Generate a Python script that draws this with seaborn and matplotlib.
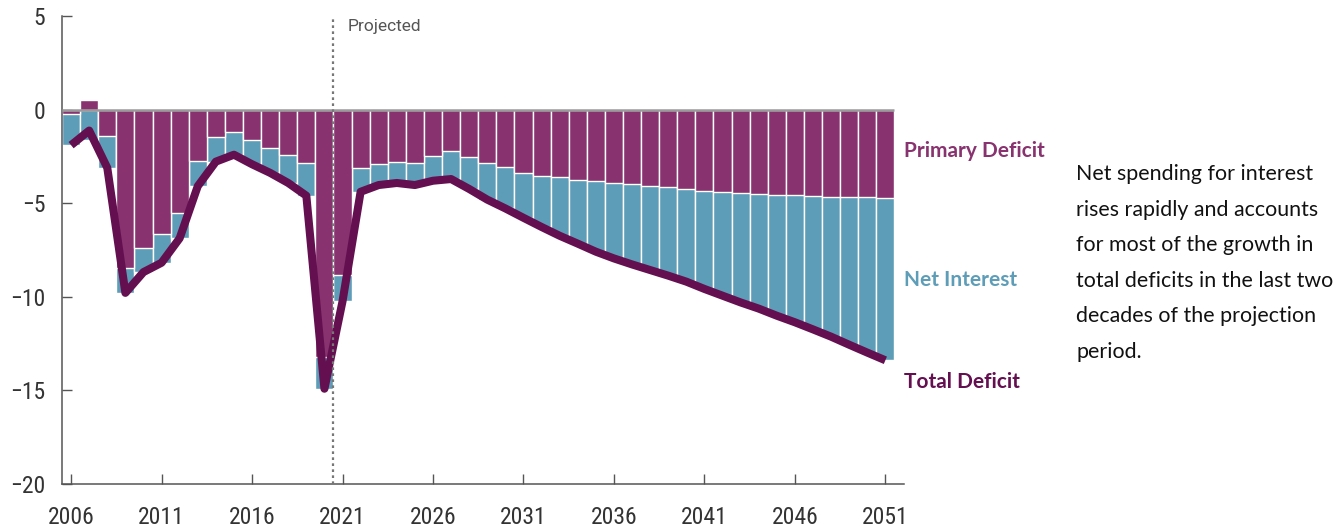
import matplotlib
matplotlib.use('Agg')
import matplotlib.pyplot as plt
import seaborn as sns
from matplotlib import font_manager

# Data: percentage of GDP
years = list(range(2006, 2052))
primary_deficit = [-0.25, 0.50, -1.39, -8.45, -7.38, -6.67, -5.52, -2.72, -1.46, -1.19,
                   -1.62, -2.04, -2.40, -2.85, -13.20, -8.83, -3.12, -2.91, -2.80, -2.86,
                   -2.48, -2.22, -2.54, -2.86, -3.07, -3.39, -3.55, -3.60, -3.76, -3.82,
                   -3.92, -3.98, -4.08, -4.14, -4.24, -4.35, -4.40, -4.46, -4.51, -4.56,
                   -4.56, -4.62, -4.67, -4.67, -4.67, -4.72]
net_interest = [-1.65, -1.62, -1.72, -1.34, -1.30, -1.51, -1.35, -1.37, -1.32, -1.22,
                -1.30, -1.34, -1.52, -1.75, -1.71, -1.41, -1.27, -1.12, -1.12, -1.17,
                -1.32, -1.49, -1.70, -1.95, -2.21, -2.39, -2.72, -3.14, -3.40, -3.77,
                -4.03, -4.29, -4.49, -4.73, -4.95, -5.23, -5.54, -5.84, -6.12, -6.45,
                -6.80, -7.12, -7.46, -7.89, -8.31, -8.67]
total_deficit = [p + i for p, i in zip(primary_deficit, net_interest)]
# teal bars hang below the primary deficit (or below zero for a surplus year)
interest_bottom = [min(p, 0) + i for p, i in zip(primary_deficit, net_interest)]

xticks = list(range(2006, 2052, 5))
yticks = [5, 0, -5, -10, -15, -20]
note = ('Net spending for interest\nrises rapidly and accounts\nfor most of the growth in\n'
        'total deficits in the last two\ndecades of the projection\nperiod.')

purple = '#88336F'
teal = '#5E9DB7'
dark = '#640F50'


def pick(names):
    avail = {f.name for f in font_manager.fontManager.ttflist}
    for n in names:
        if n in avail:
            return n
    return 'DejaVu Sans'


sns.set_theme(style='ticks')
cond = pick(['Roboto Condensed', 'Liberation Sans Narrow', 'Roboto'])
body = pick(['Lato', 'Open Sans', 'Roboto'])
plain = pick(['Roboto', 'Open Sans'])
plt.rcParams['font.family'] = [cond, 'DejaVu Sans']

fig = plt.figure(figsize=(13.43, 5.29), dpi=100)
ax = fig.add_axes([0.0462, 0.085, 0.6272, 0.8848])

sns.barplot(x=years, y=interest_bottom, native_scale=True, width=1, color=teal,
            saturation=1, edgecolor='white', linewidth=1, errorbar=None, ax=ax)
sns.barplot(x=years, y=primary_deficit, native_scale=True, width=1, color=purple,
            saturation=1, edgecolor='white', linewidth=1, errorbar=None, ax=ax)
ax.hlines(0, 2005.5, 2051.5, color='#9a9a9a', linewidth=1.8, zorder=3)
sns.lineplot(x=years, y=total_deficit, color=dark, linewidth=5.8, ax=ax,
             solid_capstyle='butt', zorder=4)

ax.axvline(2020.5, color='#777777', linestyle=(0, (1.2, 1.5)), linewidth=1.6, zorder=5)
ax.text(2021.3, 4.45, 'Projected', fontsize=12.5, color='#555555', va='center', ha='left',
        family=[plain, 'DejaVu Sans'])

ax.set_xlim(2005.5, 2052.05)
ax.set_ylim(-20, 5)
ax.set_xticks(xticks)
ax.set_xticklabels([str(y) for y in xticks])
ax.set_yticks(yticks)
ax.set_xlabel('')
ax.set_ylabel('')
ax.tick_params(direction='in', length=7, width=1, color='#555555', labelcolor='#333333',
               labelsize=17)
ax.tick_params(axis='y', pad=12)
ax.tick_params(axis='x', pad=16)
sns.despine(ax=ax)
for s in ['left', 'bottom']:
    ax.spines[s].set_color('#555555')
    ax.spines[s].set_linewidth(1.1)

fig.text(904 / 1343, 1 - 151 / 529, 'Primary Deficit', color=purple, fontsize=15,
         fontweight='bold', family=[body, 'DejaVu Sans'], va='center')
fig.text(904 / 1343, 1 - 280 / 529, 'Net Interest', color=teal, fontsize=15,
         fontweight='bold', family=[body, 'DejaVu Sans'], va='center')
fig.text(904 / 1343, 1 - 382 / 529, 'Total Deficit', color=dark, fontsize=15,
         fontweight='bold', family=[body, 'DejaVu Sans'], va='center')
fig.text(1076 / 1343, 1 - 263 / 529, note, color='#111111', fontsize=15.4,
         family=[body, 'DejaVu Sans'], va='center', ha='left', linespacing=1.97)

fig.savefig('out.png', dpi=100)
